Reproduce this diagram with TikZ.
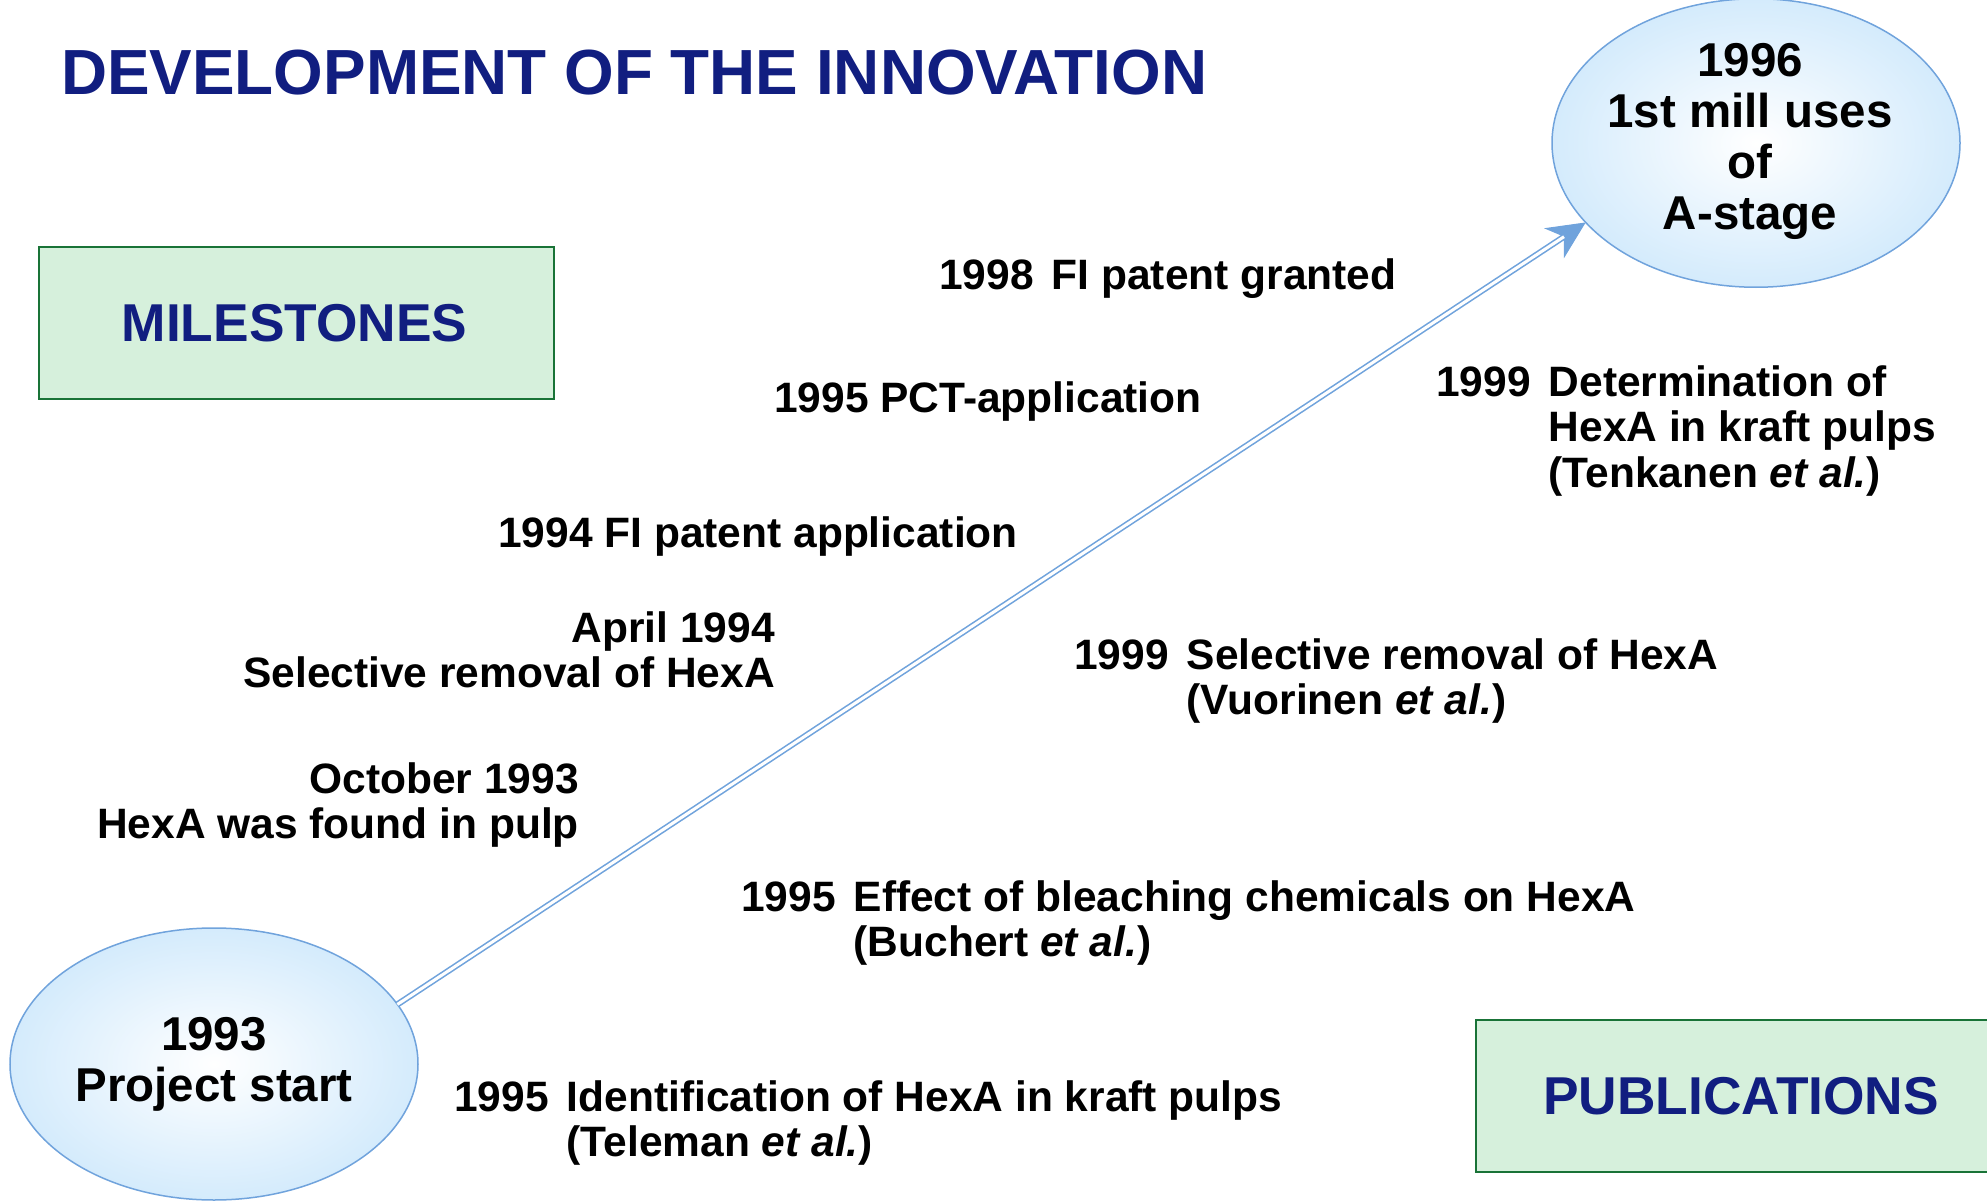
\documentclass[tikz,border=0pt]{standalone}
\usepackage{fontspec}
\setmainfont{Liberation Sans}
\usepackage{xcolor}
\usetikzlibrary{shapes.geometric, arrows.meta}
\definecolor{navy}{RGB}{17,30,128}
\definecolor{boxfill}{RGB}{214,240,220}
\definecolor{boxline}{RGB}{25,115,55}
\definecolor{bubblefill}{RGB}{212,235,252}
\definecolor{bubbleline}{RGB}{112,163,220}
\newcommand{\ea}{\textit{et al.}}

\begin{document}
\begin{tikzpicture}[x=1pt, y=-1pt,
    event/.style = {font=\bfseries\fontsize{42.5}{45.6}\selectfont, inner sep=0pt},
    tag/.style = {draw=boxline, line width=2pt, fill=boxfill, minimum width=515pt, minimum height=152pt,
                  font=\bfseries\fontsize{53.3}{56}\selectfont, text=navy},
    bubble/.style = {ellipse, draw=bubbleline, line width=1.5pt, shading=radial, inner color=white,
                     outer color=bubblefill, minimum width=408pt, minimum height=272pt, inner sep=0pt,
                     outer sep=0pt, align=center, font=\bfseries\fontsize{47.5}{51}\selectfont}]
    \useasboundingbox (0,0) rectangle (1987,1201);
    % Titolo e riquadri
    \node[anchor=base west, inner sep=0pt, text=navy, font=\bfseries\fontsize{63.8}{70}\selectfont]
        (title) at (61,95) {DEVELOPMENT OF THE INNOVATION};
    \node[tag] (milestones) at (296.5,323) {\hspace*{-4pt}MILESTONES};
    \node[tag, minimum width=530pt] (publications) at (1741,1096) {PUBLICATIONS};
    % Inizio e fine
    \node[bubble] (start) at (214,1064) {1993\\Project start};
    \node[bubble] (mill) at (1756,143) {\hspace*{-12pt}\begin{tabular}{@{}c@{}}1996\\1st mill uses\\of\\A-stage\end{tabular}};
    % Freccia
    \draw[bubbleline, line width=1pt, -{Stealth[length=38pt, width=36pt, inset=12pt]}] (start.18) -- (mill.205);
    \draw[bubbleline, line width=1.6pt, double=white, double distance=3pt, shorten >=26pt] (start.18) -- (mill.205);
    % Milestones
    \node[event, anchor=base west] (granted) at (939,290) {1998\hspace{18pt}FI patent granted};
    \node[event, anchor=base west] (pct) at (774,412) {1995 PCT-application};
    \node[event, anchor=base west] (fiapp) at (498,547) {1994 FI patent application};
    \node[event, anchor=base east] (april) at (775,642)
        {\begin{tabular}[t]{@{}r@{}}April 1994\\Selective removal of HexA\end{tabular}};
    \node[event, anchor=base east] (october) at (579,793)
        {\begin{tabular}[t]{@{}r@{}}October 1993\\HexA was found in pulp\end{tabular}};
    % Publications
    \node[event, anchor=base west] (tenkanen) at (1436,396)
        {\begin{tabular}[t]{@{}l@{\hspace{18pt}}l@{}}1999 & Determination of\\ & HexA in kraft pulps\\ & (Tenkanen \ea)\end{tabular}};
    \node[event, anchor=base west] (vuorinen) at (1074,669)
        {\begin{tabular}[t]{@{}l@{\hspace{18pt}}l@{}}1999 & Selective removal of HexA\\ & (Vuorinen \ea)\end{tabular}};
    \node[event, anchor=base west] (buchert) at (741,911)
        {\begin{tabular}[t]{@{}l@{\hspace{18pt}}l@{}}1995 & Effect of bleaching chemicals on HexA\\ & (Buchert \ea)\end{tabular}};
    \node[event, anchor=base west] (teleman) at (454,1111)
        {\begin{tabular}[t]{@{}l@{\hspace{18pt}}l@{}}1995 & Identification of HexA in kraft pulps\\ & (Teleman \ea)\end{tabular}};
\end{tikzpicture}
\end{document}
